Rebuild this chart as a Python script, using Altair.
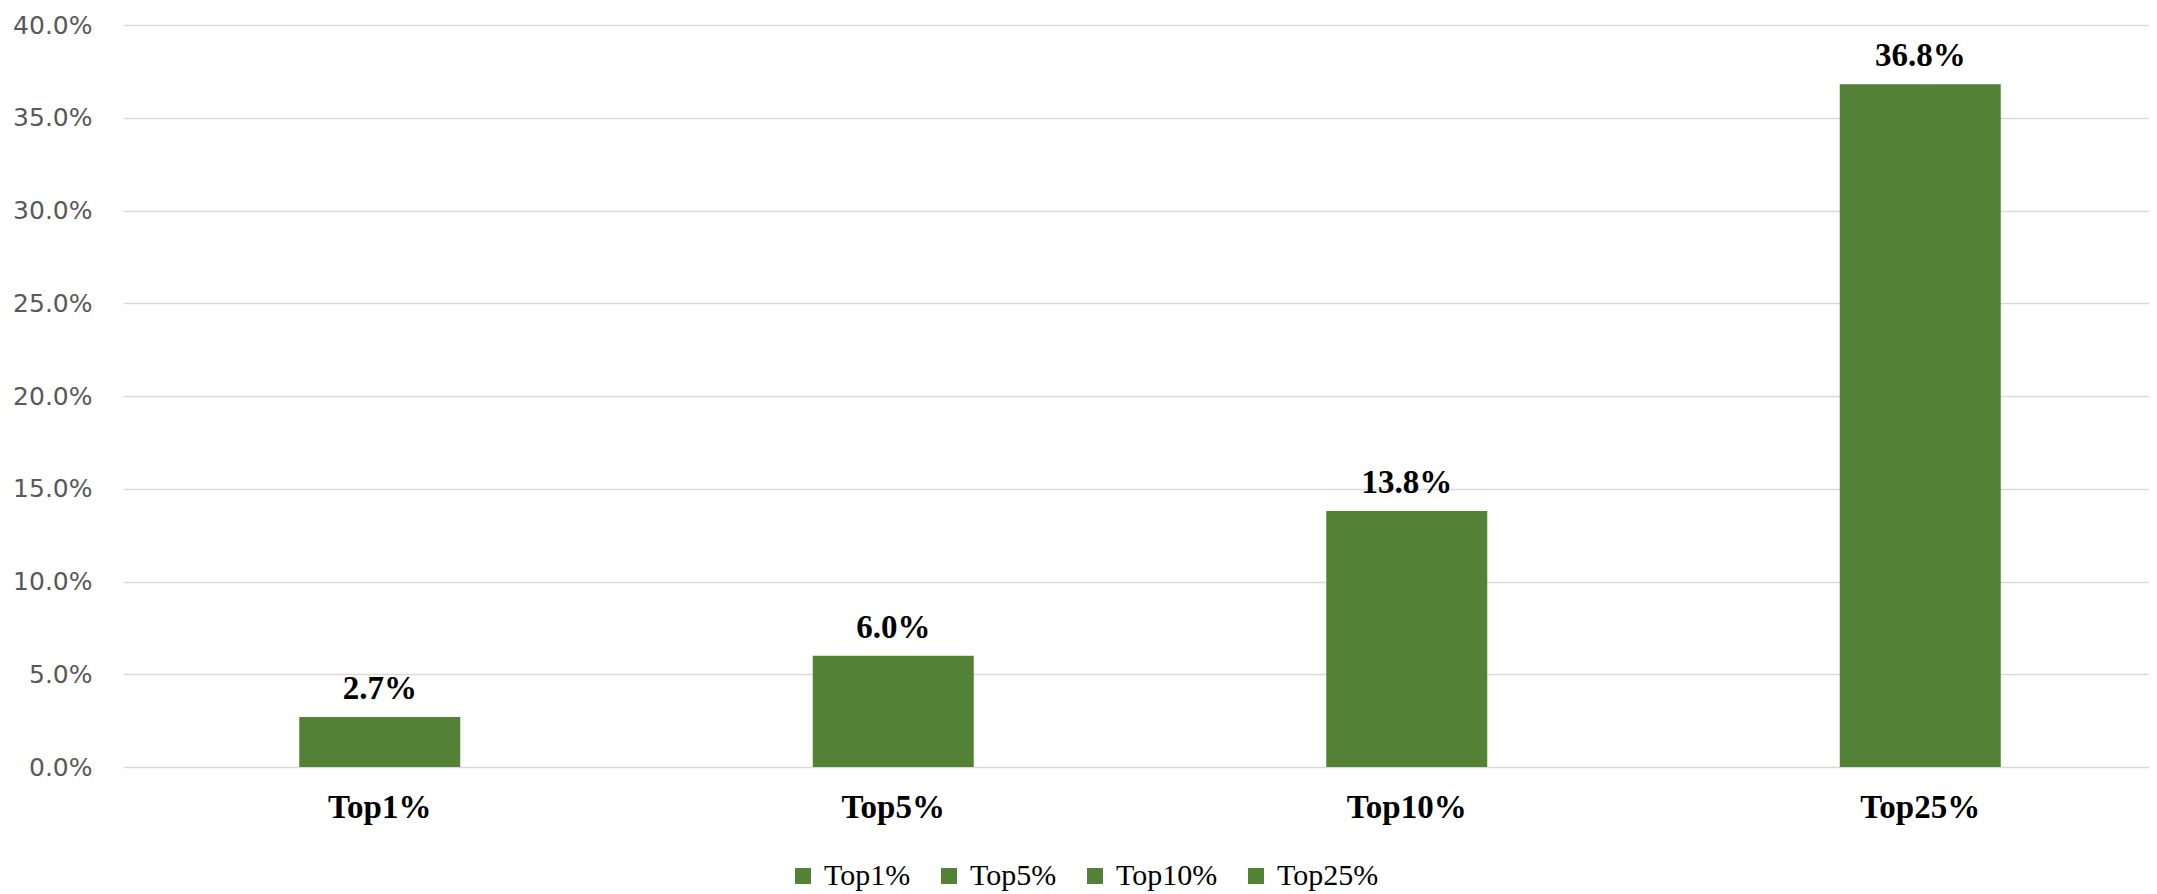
import altair as alt
import pandas as pd

categories = ["Top1%", "Top5%", "Top10%", "Top25%"]
values = [0.027, 0.060, 0.138, 0.368]
labels = ["2.7%", "6.0%", "13.8%", "36.8%"]

df = pd.DataFrame({"cat": categories, "val": values, "lab": labels})

GREEN = "#538135"

x_enc = alt.X(
    "cat:N",
    sort=categories,
    title=None,
    scale=alt.Scale(range=[0, 2054], paddingInner=0.6865, paddingOuter=0.34325, round=False),
    axis=alt.Axis(
        labelAngle=0,
        labelFont="Liberation Serif",
        labelFontWeight="bold",
        labelFontSize=33,
        labelColor="#000000",
        labelPadding=24,
        ticks=False,
        domain=False,
        grid=False,
    ),
)

y_enc = alt.Y(
    "val:Q",
    title=None,
    scale=alt.Scale(domain=[0, 0.4], nice=False),
    axis=alt.Axis(
        values=[0, 0.05, 0.1, 0.15, 0.2, 0.25, 0.3, 0.35, 0.4],
        format=".1%",
        labelFont="DejaVu Sans",
        labelFontSize=25,
        labelColor="#595959",
        labelPadding=31,
        ticks=False,
        domain=False,
        grid=True,
        gridColor="#d9d9d9",
        gridWidth=1.5,
    ),
)

bars = alt.Chart(df).mark_bar(size=161).encode(
    x=x_enc,
    y=y_enc,
    color=alt.Color(
        "cat:N",
        sort=categories,
        scale=alt.Scale(domain=categories, range=[GREEN] * 4),
        legend=alt.Legend(
            title=None,
            orient="none",
            legendX=665,
            legendY=836,
            direction="horizontal",
            columns=4,
            symbolType="square",
            symbolSize=256,
            symbolStrokeWidth=0,
            symbolOpacity=1,
            labelFont="Liberation Serif",
            labelFontSize=30,
            labelColor="#000000",
            labelOffset=6,
            columnPadding=23,
            padding=0,
        ),
    ),
)

text = alt.Chart(df).mark_text(
    font="Liberation Serif",
    fontWeight="bold",
    fontSize=33,
    color="#000000",
    baseline="alphabetic",
    dy=-18,
).encode(
    x=alt.X("cat:N", sort=categories),
    y=alt.Y("val:Q"),
    text="lab:N",
)

chart = (
    alt.layer(bars, text)
    .properties(
        width=2026,
        height=742,
        autosize=alt.AutoSizeParams(type="none"),
        padding={"left": 115, "top": 17, "right": 0, "bottom": 128},
    )
    .configure_view(stroke=None)
)

chart.save("out.html", embed_options={"renderer": "svg", "actions": False})
